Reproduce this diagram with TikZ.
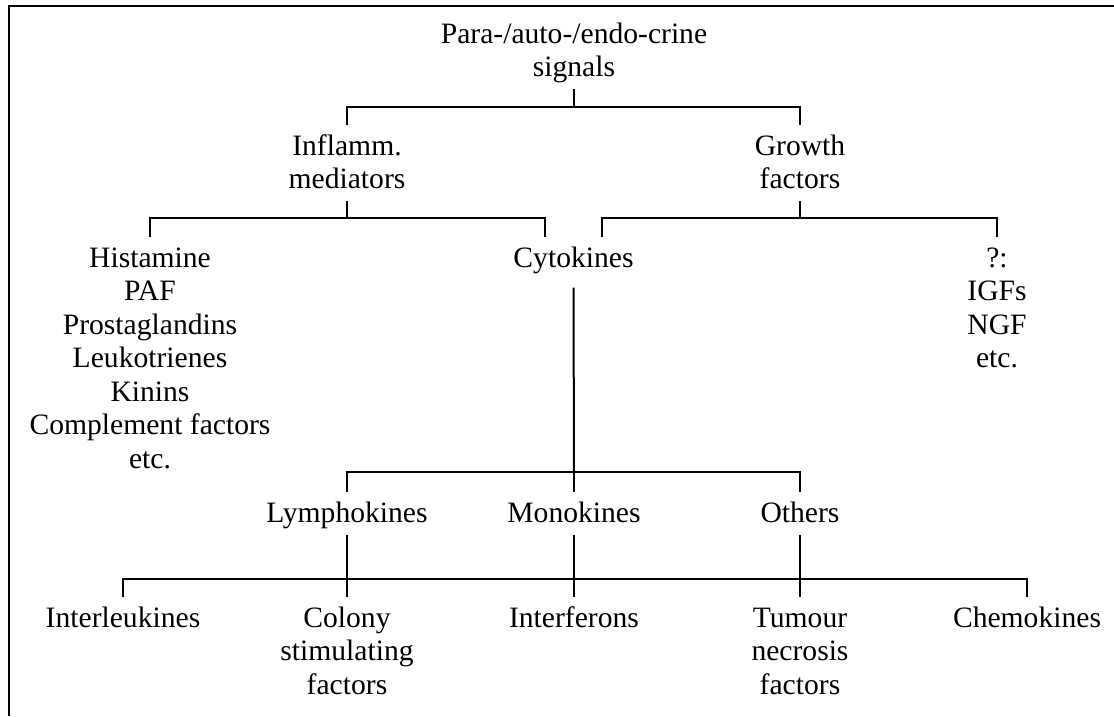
\documentclass[tikz,border=0pt]{standalone}
\usepackage{fontspec}
\setmainfont{Liberation Serif}
\usetikzlibrary{calc}
\newcommand\stk[1]{\begin{tabular}[t]{@{}c@{}}#1\end{tabular}}
\begin{document}
\begin{tikzpicture}[x=1pt,y=-1pt,
  lbl/.style={anchor=base,inner sep=0pt,outer xsep=0pt,outer ysep=2.5pt,font=\fontsize{29.6}{33.5}\selectfont},
  link/.style={line width=2pt}]
\useasboundingbox (0,0) rectangle (1114,716);
\draw[line width=2pt] (9,716) -- (9,6) -- (1114,6);

\node[lbl] (root)   at (574,43)  {\stk{Para-/auto-/endo-crine\\signals}};
\node[lbl] (infl)   at (347,155) {\stk{Inflamm.\\mediators}};
\node[lbl] (growth) at (800,155) {\stk{Growth\\factors}};
\node[lbl] (hist)   at (150,267) {\stk{Histamine\\PAF\\Prostaglandins\\Leukotrienes\\Kinins\\Complement factors\\etc.}};
\node[lbl] (cyto)   at (573.5,267) {\stk{Cytokines}};
\node[lbl] (q)      at (997,267) {\stk{?:\\IGFs\\NGF\\etc.}};
\node[lbl] (lymph)  at (347,522) {\stk{Lymphokines}};
\node[lbl] (mono)   at (574,522) {\stk{Monokines}};
\node[lbl] (others) at (800,522) {\stk{Others}};
\node[lbl] (il)     at (123,627) {\stk{Interleukines}};
\node[lbl] (csf)    at (347,627) {\stk{Colony\\stimulating\\factors}};
\node[lbl] (ifn)    at (574,627) {\stk{Interferons}};
\node[lbl] (tnf)    at (800,627) {\stk{Tumour\\necrosis\\factors}};
\node[lbl] (chemo)  at (1027,627) {\stk{Chemokines}};

\coordinate (j1) at (574,107);
\coordinate (j2) at (347,218);
\coordinate (j3) at (800,218);
\coordinate (j4) at (574,472);
\coordinate (j5) at (574,579);

\draw[link] (root.south) -- (j1);
\draw[link] ([yshift=4pt]infl.north) |- (j1) -| ([yshift=4pt]growth.north);
\draw[link] (infl.south) -- (j2);
\draw[link] ([yshift=4pt]hist.north) |- (j2) -| ([xshift=-28.5pt,yshift=4pt]cyto.north);
\draw[link] (growth.south) -- (j3);
\draw[link] ([xshift=28.5pt,yshift=4pt]cyto.north) |- (j3) -| ([yshift=4pt]q.north);
\draw[link] ([yshift=-8pt]cyto.south) -- (j4);
\draw[link] ([yshift=4pt]lymph.north) |- (j4) -| ([yshift=4pt]others.north);
\draw[link] (j4) -- ([yshift=4pt]mono.north);
\draw[link] (lymph.south) -- ([yshift=4pt]csf.north);
\draw[link] (mono.south) -- ([yshift=4pt]ifn.north);
\draw[link] (others.south) -- ([yshift=4pt]tnf.north);
\draw[link] ([yshift=4pt]il.north) |- (j5) -| ([yshift=4pt]chemo.north);
\end{tikzpicture}
\end{document}
